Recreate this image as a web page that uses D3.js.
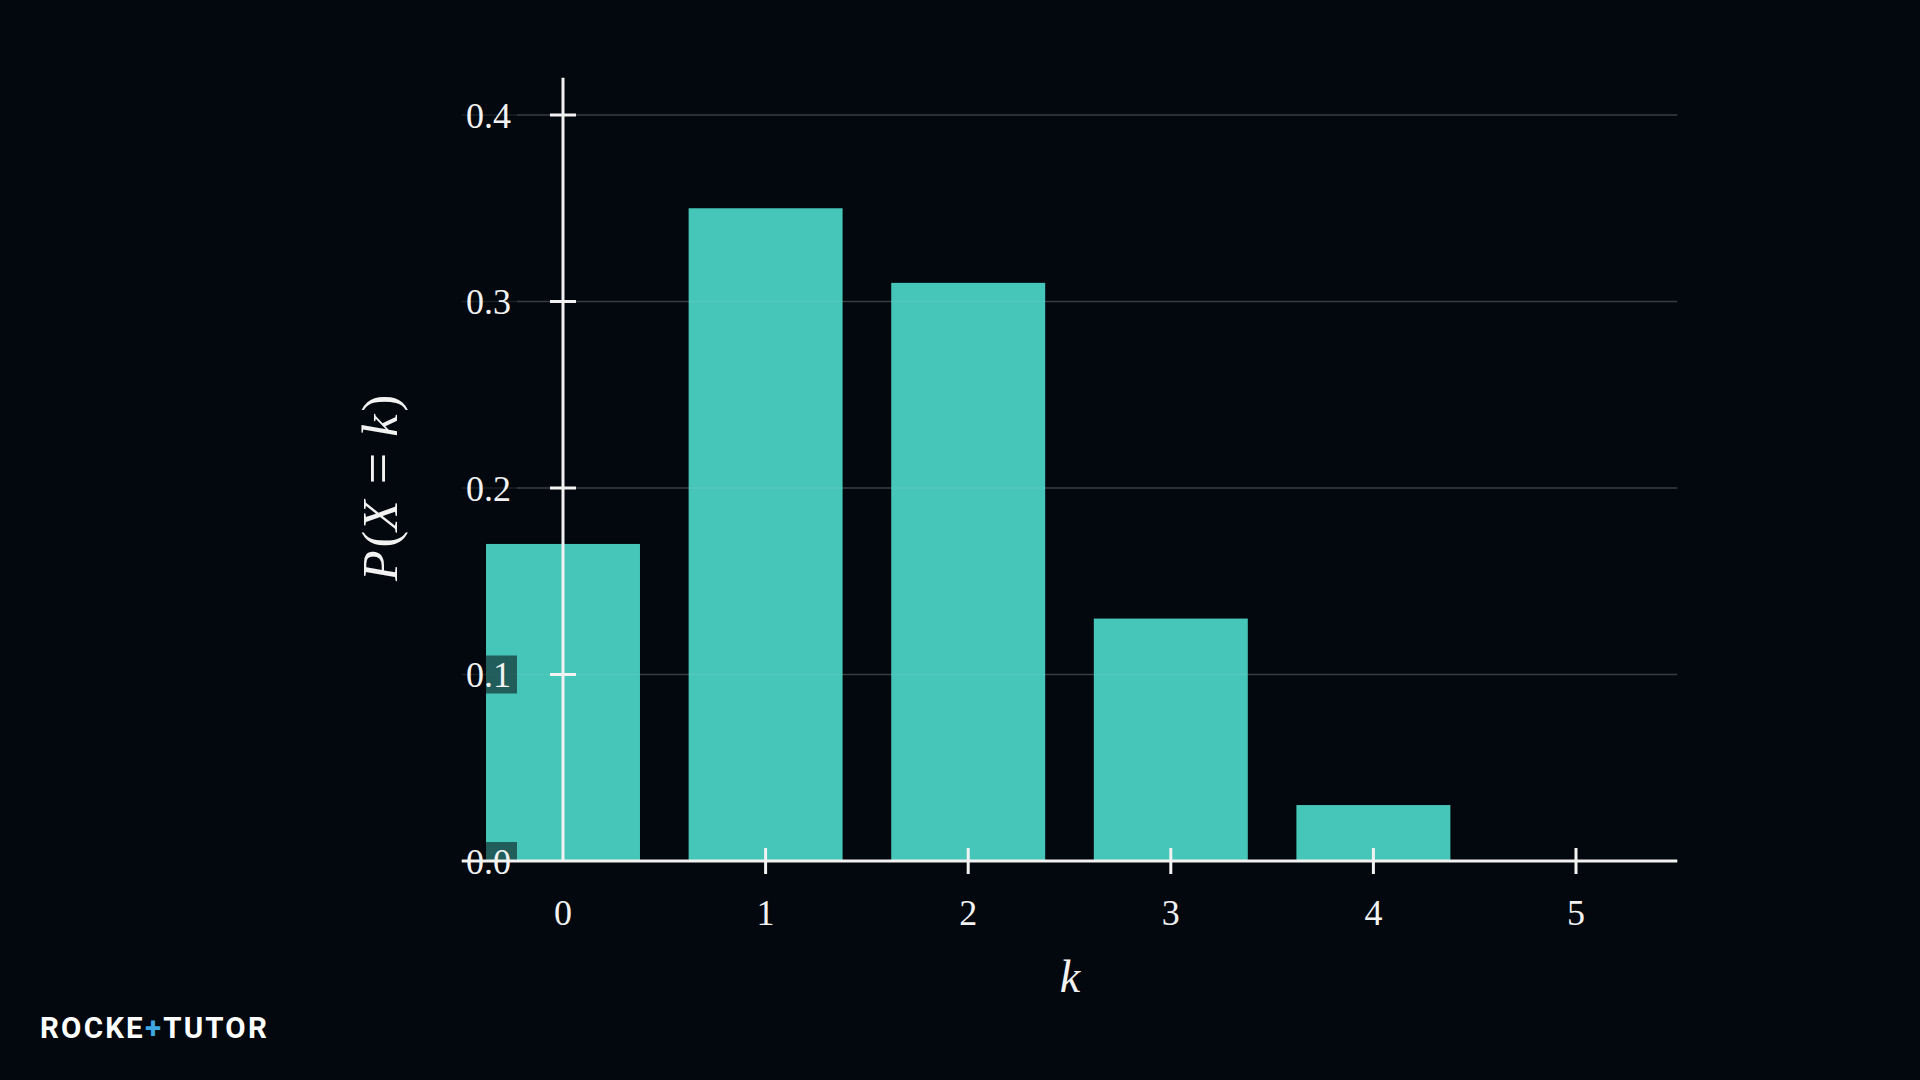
<!DOCTYPE html>
<html><head><meta charset="utf-8">
<script src="https://cdn.jsdelivr.net/npm/d3@7"></script>
<style>html,body{margin:0;padding:0;background:#03080e;}svg{display:block;}</style>
</head><body>
<script>
const categories = [0, 1, 2, 3, 4, 5];
const probabilities = [0.17, 0.35, 0.31, 0.13, 0.03, 0.0];
const yTicks = [0.0, 0.1, 0.2, 0.3, 0.4];
const yTickLabels = ["0.0", "0.1", "0.2", "0.3", "0.4"];
const xTickLabels = ["0", "1", "2", "3", "4", "5"];

const W = 1920, H = 1080;
const bg = "#03080e", barColor = "#46c6b8", axisColor = "#f2f2f2";
const serif = "'Liberation Serif','DejaVu Serif',serif";

const svg = d3.select("body").append("svg").attr("width", W).attr("height", H);
svg.append("rect").attr("width", W).attr("height", H).attr("fill", bg);

const x = d3.scaleLinear().domain([-0.5, 5.5]).range([461.7, 1677.3]);
const y = d3.scaleLinear().domain([0, 0.42]).range([861, 77.7]);
const barW = 0.76;

// gridlines (under)
svg.append("g").selectAll("line").data(yTicks.filter(d => d > 0)).join("line")
  .attr("x1", x(-0.5)).attr("x2", x(5.5)).attr("y1", d => y(d)).attr("y2", d => y(d))
  .attr("stroke", "rgba(255,255,255,0.16)").attr("stroke-width", 1.5);

// bars
svg.append("g").selectAll("rect").data(categories).join("rect")
  .attr("x", (d) => x(d - barW / 2)).attr("width", x(barW) - x(0))
  .attr("y", (d, i) => y(probabilities[i])).attr("height", (d, i) => y(0) - y(probabilities[i]))
  .attr("fill", barColor);

// faint gridlines over bars
svg.append("g").selectAll("line").data(yTicks.filter(d => d > 0)).join("line")
  .attr("x1", x(-0.5)).attr("x2", x(5.5)).attr("y1", d => y(d)).attr("y2", d => y(d))
  .attr("stroke", "rgba(255,255,255,0.07)").attr("stroke-width", 1.5);

// y tick labels with background boxes
const yl = svg.append("g");
yTicks.forEach((t, i) => {
  const cy = y(t);
  yl.append("rect").attr("x", 461).attr("y", cy - 19).attr("width", 56).attr("height", 38)
    .attr("fill", bg).attr("opacity", 0.55);
  yl.append("text").attr("x", 511).attr("y", cy).attr("dy", "0.35em")
    .attr("text-anchor", "end").attr("fill", axisColor)
    .attr("font-family", serif).attr("font-size", 36).text(yTickLabels[i]);
});

// x axis line
svg.append("line").attr("x1", x(-0.5)).attr("x2", x(5.5)).attr("y1", y(0)).attr("y2", y(0))
  .attr("stroke", axisColor).attr("stroke-width", 3);
// y axis line
svg.append("line").attr("x1", x(0)).attr("x2", x(0)).attr("y1", y(0.42)).attr("y2", y(0))
  .attr("stroke", axisColor).attr("stroke-width", 3);

// y ticks
svg.append("g").selectAll("line").data(yTicks.filter(d => d > 0)).join("line")
  .attr("x1", x(0) - 13).attr("x2", x(0) + 13).attr("y1", d => y(d)).attr("y2", d => y(d))
  .attr("stroke", axisColor).attr("stroke-width", 3);
// x ticks
svg.append("g").selectAll("line").data(categories.filter(d => d > 0)).join("line")
  .attr("x1", d => x(d)).attr("x2", d => x(d)).attr("y1", y(0) - 13).attr("y2", y(0) + 13)
  .attr("stroke", axisColor).attr("stroke-width", 3);

// x tick labels
svg.append("g").selectAll("text").data(categories).join("text")
  .attr("x", d => x(d)).attr("y", 925).attr("text-anchor", "middle")
  .attr("fill", axisColor).attr("font-family", serif).attr("font-size", 36)
  .text((d, i) => xTickLabels[i]);

// x label
svg.append("text").attr("x", 1070).attr("y", 992).attr("text-anchor", "middle")
  .attr("fill", axisColor).attr("font-family", serif).attr("font-style", "italic")
  .attr("font-size", 46).text("k");

// y label
const ylab = svg.append("text").attr("transform", "translate(397,488) rotate(-90)")
  .attr("text-anchor", "middle").attr("fill", axisColor)
  .attr("font-family", serif).attr("font-size", 50);
ylab.append("tspan").attr("font-style", "italic").text("P");
ylab.append("tspan").attr("dx", 3).text("(");
ylab.append("tspan").attr("font-style", "italic").text("X");
ylab.append("tspan").attr("dx", 16).attr("font-size", 56).text("=");
ylab.append("tspan").attr("dx", 16).attr("font-style", "italic").text("k");
ylab.append("tspan").attr("dx", 3).text(")");

// logo
const logo = svg.append("text").attr("x", 40).attr("y", 1038)
  .attr("font-family", "Roboto, 'Liberation Sans', sans-serif").attr("font-weight", 700)
  .attr("font-size", 29.5).attr("fill", "#ffffff").attr("letter-spacing", 2.2);
logo.append("tspan").text("ROCKE");
logo.append("tspan").attr("fill", "#3ea6e0").text("+");
logo.append("tspan").text("TUTO");
logo.append("tspan").text("R");
</script>
</body></html>
